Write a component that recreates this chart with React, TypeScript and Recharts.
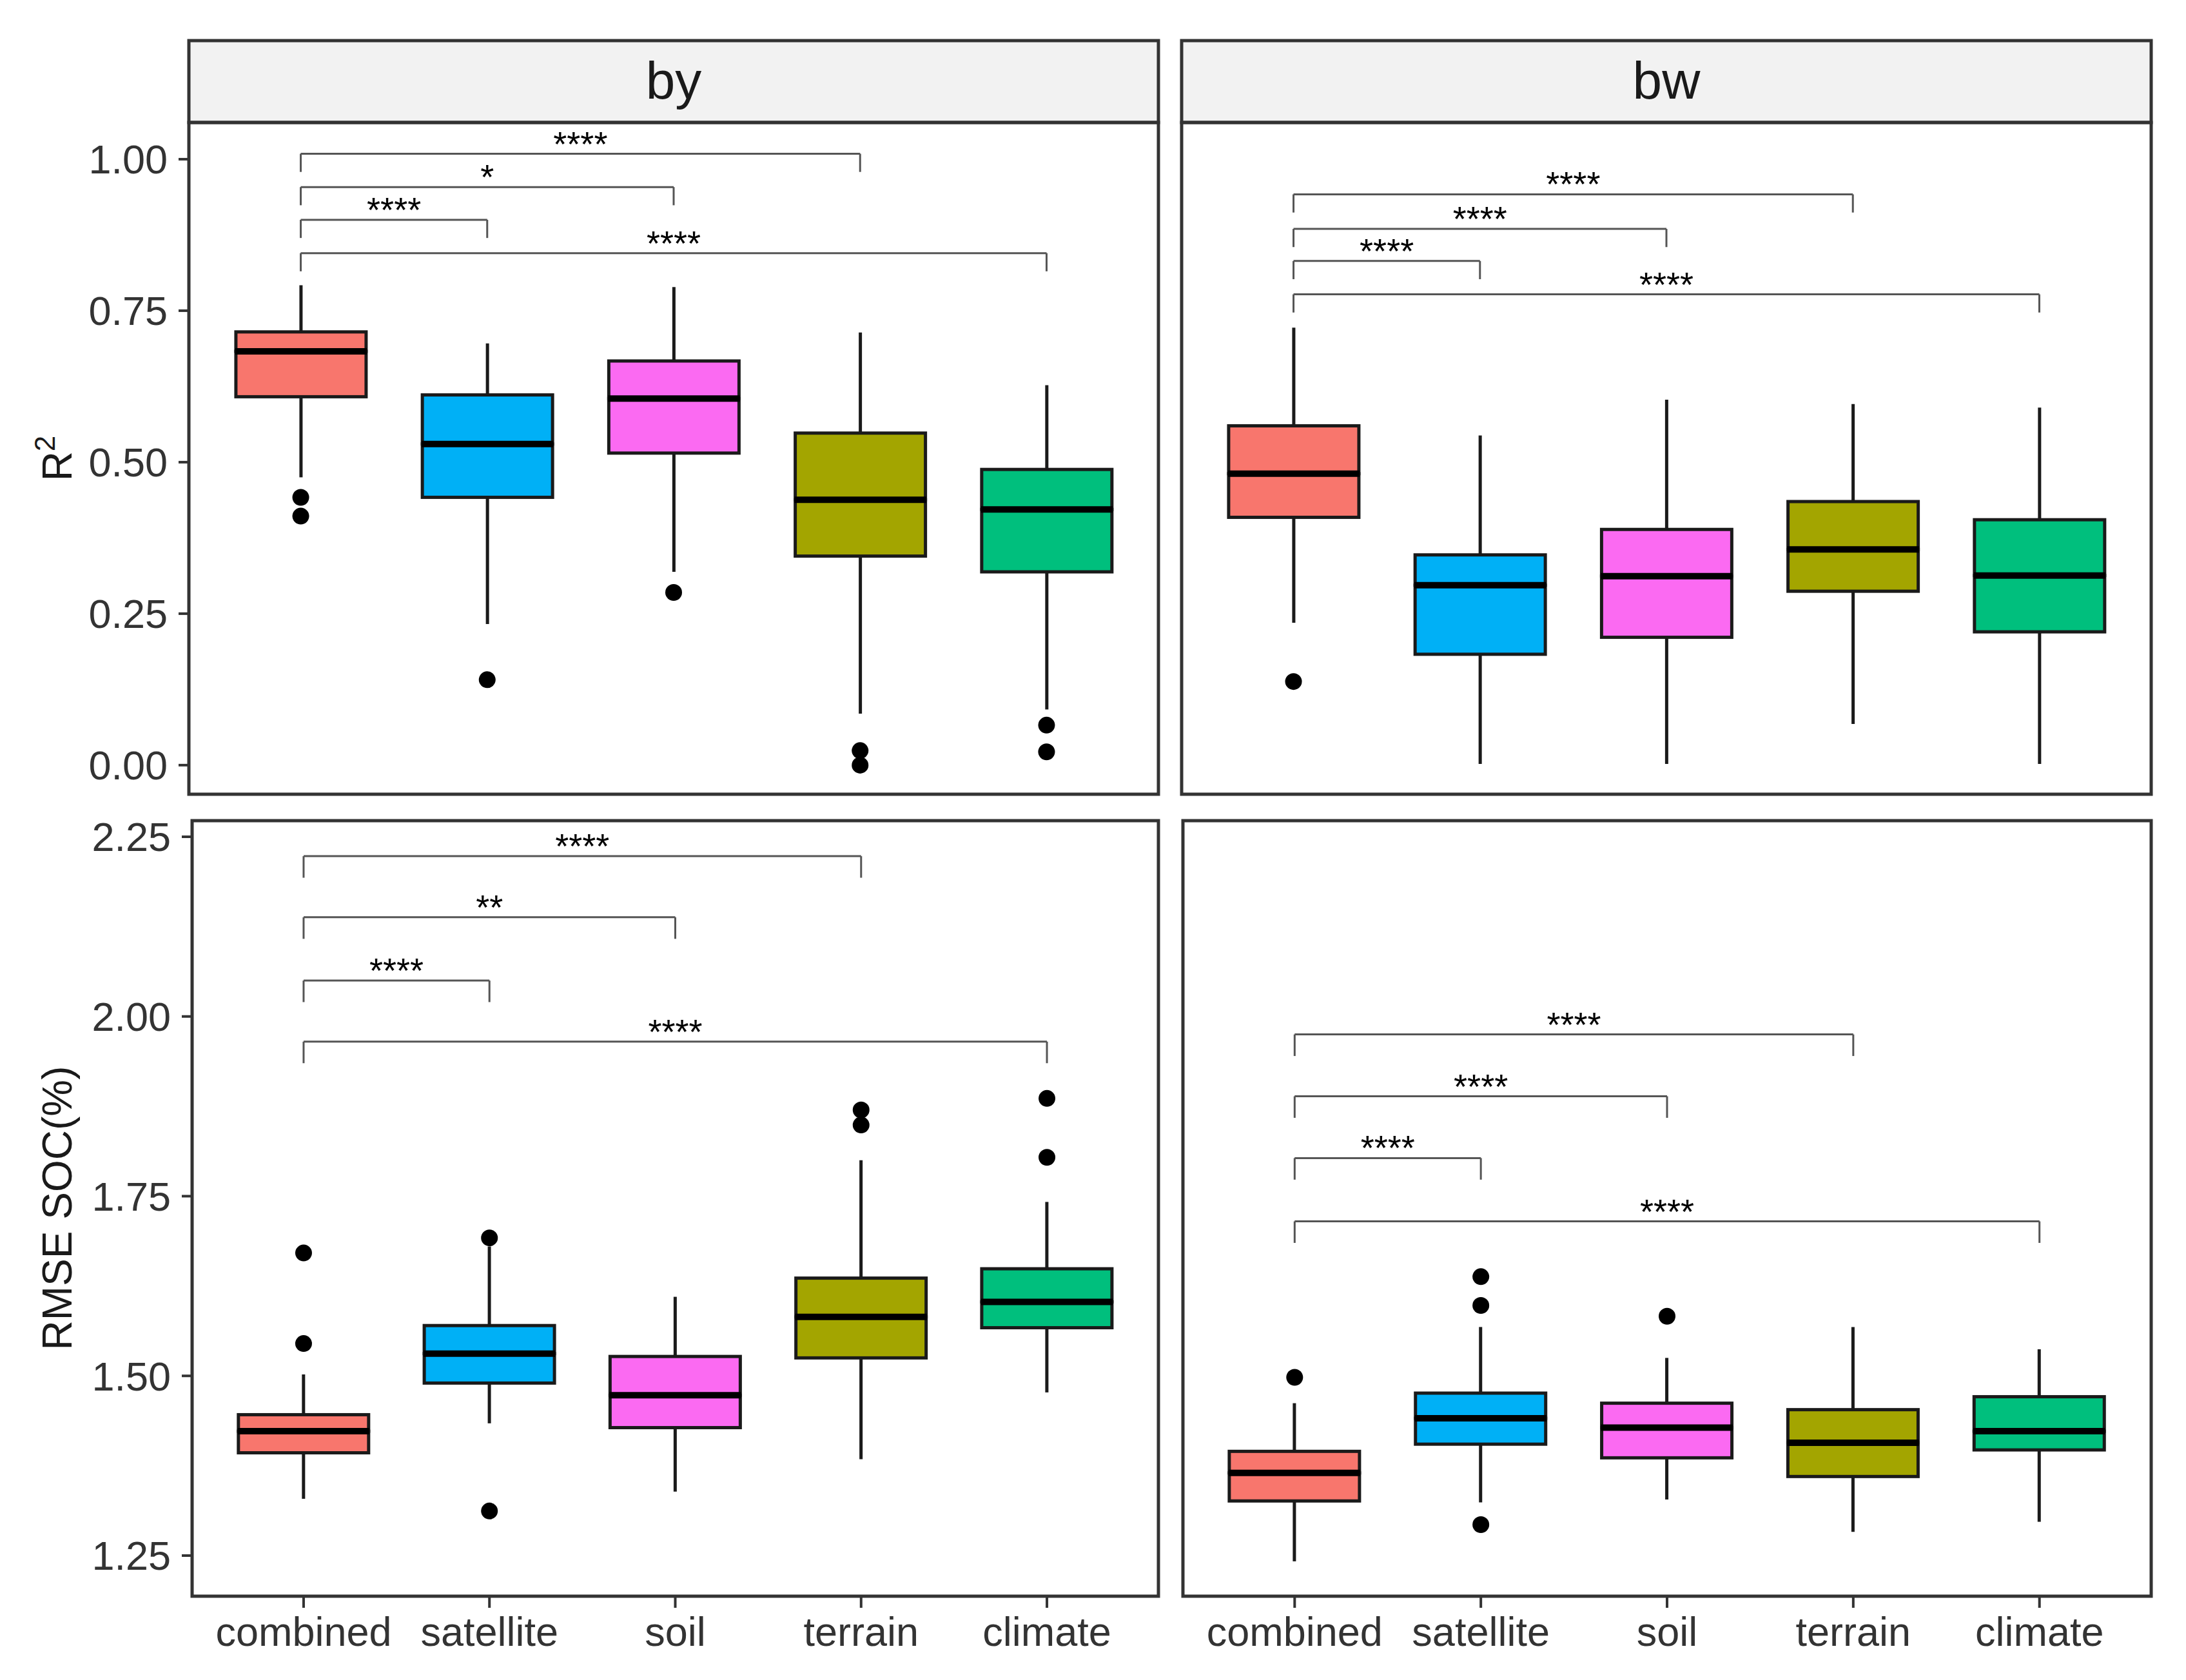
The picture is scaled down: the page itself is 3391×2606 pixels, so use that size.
import React from 'react';
import { ComposedChart, Bar, Scatter, XAxis, YAxis, ReferenceLine, ReferenceArea } from 'recharts';

const W = 3391;
const H = 2606;

const categories = ['combined', 'satellite', 'soil', 'terrain', 'climate'];
const boxColors = ['#F8766D', '#00B0F6', '#FB6AF2', '#A3A500', '#00BF7D'];

// [lower whisker, Q1, median, Q3, upper whisker] per category
const byR2Stats = [
  [0.475, 0.608, 0.683, 0.715, 0.792],
  [0.233, 0.442, 0.530, 0.611, 0.696],
  [0.319, 0.515, 0.605, 0.667, 0.789],
  [0.085, 0.345, 0.438, 0.548, 0.714],
  [0.092, 0.319, 0.422, 0.488, 0.627],
];
const byR2Outliers = [[0.442, 0.411], [0.141], [0.285], [0.024, 0.0], [0.066, 0.022]];

const bwR2Stats = [
  [0.235, 0.409, 0.481, 0.560, 0.722],
  [0.002, 0.183, 0.297, 0.347, 0.544],
  [0.002, 0.211, 0.312, 0.389, 0.603],
  [0.068, 0.287, 0.356, 0.435, 0.596],
  [0.002, 0.220, 0.313, 0.405, 0.590],
];
const bwR2Outliers = [[0.138], [], [], [], []];

const byRmseStats = [
  [1.329, 1.393, 1.423, 1.446, 1.502],
  [1.434, 1.490, 1.531, 1.570, 1.680],
  [1.339, 1.428, 1.473, 1.527, 1.610],
  [1.384, 1.525, 1.582, 1.636, 1.800],
  [1.477, 1.567, 1.603, 1.649, 1.742],
];
const byRmseOutliers = [[1.671, 1.545], [1.692, 1.312], [], [1.870, 1.849], [1.886, 1.804]];

const bwRmseStats = [
  [1.242, 1.326, 1.365, 1.395, 1.462],
  [1.324, 1.405, 1.441, 1.476, 1.568],
  [1.328, 1.386, 1.428, 1.462, 1.525],
  [1.283, 1.360, 1.407, 1.453, 1.568],
  [1.297, 1.397, 1.423, 1.471, 1.537],
];
const bwRmseOutliers = [[1.498], [1.638, 1.598, 1.293], [1.583], [], []];

// significance brackets: combined vs each of these
const comparedWith = ['satellite', 'soil', 'terrain', 'climate'];
const byR2BracketY = [0.900, 0.954, 1.009, 0.845];
const byR2Signif = ['****', '*', '****', '****'];
const bwR2BracketY = [0.832, 0.885, 0.942, 0.777];
const bwR2Signif = ['****', '****', '****', '****'];
const byRmseBracketY = [2.050, 2.138, 2.223, 1.965];
const byRmseSignif = ['****', '**', '****', '****'];
const bwRmseBracketY = [1.803, 1.889, 1.975, 1.715];
const bwRmseSignif = ['****', '****', '****', '****'];

const r2Ticks = [0, 0.25, 0.5, 0.75, 1.0];
const rmseTicks = [1.25, 1.5, 1.75, 2.0, 2.25];
const r2Domain = [-0.048, 1.0606];
const rmseDomain = [1.1935, 2.2724];
const xDomain = [0.4, 5.6];

const INK = '#1a1a1a';
const BORDER = '#333333';
const FONT = '"Liberation Sans", Arial, Helvetica, sans-serif';

const Empty = () => <g />;

const Whisker = (p: any) => {
  const cx = p.x + p.width / 2;
  return <line x1={cx} x2={cx} y1={p.y} y2={p.y + p.height} stroke={INK} strokeWidth={5} />;
};

const LowerBox = (p: any) => {
  const fill = (p.payload && p.payload.color) || boxColors[p.index];
  return <rect x={p.x} y={p.y} width={p.width} height={p.height} fill={fill} stroke={INK} strokeWidth={5} />;
};

const UpperBox = (p: any) => {
  const fill = (p.payload && p.payload.color) || boxColors[p.index];
  const yb = p.y + p.height;
  return (
    <g>
      <rect x={p.x} y={p.y} width={p.width} height={p.height} fill={fill} stroke={INK} strokeWidth={5} />
      <line x1={p.x - 1} x2={p.x + p.width + 1} y1={yb} y2={yb} stroke="#000" strokeWidth={10} />
    </g>
  );
};

const OutlierDot = (p: any) => <circle cx={p.cx} cy={p.cy} r={13} fill="#000" />;

const SigText = (p: any) => (
  <text x={p.cx} y={p.cy + 3} textAnchor="middle" fontSize={54} fill="#000" fontFamily={FONT}>
    {p.payload.t}
  </text>
);

type PanelProps = {
  stats: number[][];
  outliers: number[][];
  bracketY: number[];
  signif: string[];
  domain: number[];
  ticks: number[];
  left: number;
  right: number;
  top: number;
  bottom: number;
  showY: boolean;
  showX: boolean;
  tip: number;
};

function Panel(props: PanelProps) {
  const { stats, outliers, bracketY, signif, domain, ticks, left, right, top, bottom, showY, showX, tip } = props;
  const rows = categories.map((c, i) => {
    const s = stats[i];
    return {
      x: i + 1,
      name: c,
      color: boxColors[i],
      base: s[0],
      w1: s[1] - s[0],
      b1: s[2] - s[1],
      b2: s[3] - s[2],
      w2: s[4] - s[3],
    };
  });
  const outData: { x: number; y: number }[] = [];
  outliers.forEach((vals, i) => vals.forEach((v) => outData.push({ x: i + 1, y: v })));
  const labelData = comparedWith.map((c, k) => {
    const xi = categories.indexOf(c) + 1;
    return { x: (1 + xi) / 2, y: bracketY[k], t: signif[k] };
  });
  const plotW = right - left;
  const pad = plotW / 52; // matches ggplot discrete expansion of 0.6 units
  const xAxisH = 110;
  const margin = {
    top,
    right: W - right,
    left: showY ? 0 : left,
    bottom: showX ? H - bottom - xAxisH : H - bottom,
  };
  const lineProps = { xAxisId: 'num', stroke: '#555555', strokeWidth: 3, ifOverflow: 'visible' as const };
  return (
    <div style={{ position: 'absolute', left: 0, top: 0, width: W, height: H }}>
      <ComposedChart width={W} height={H} data={rows} margin={margin}>
        <XAxis
          dataKey="name"
          type="category"
          allowDuplicatedCategory={false}
          padding={{ left: pad, right: pad }}
          interval={0}
          hide={!showX}
          height={xAxisH}
          axisLine={false}
          tickLine={{ stroke: BORDER, strokeWidth: 4 }}
          tickSize={18}
          tickMargin={14}
          tick={{ fontSize: 63, fill: '#333333', fontFamily: FONT }}
        />
        <XAxis xAxisId="num" dataKey="x" type="number" domain={xDomain} allowDataOverflow hide />
        <YAxis
          type="number"
          domain={domain}
          ticks={ticks}
          interval={0}
          allowDataOverflow
          hide={!showY}
          width={showY ? left : 0}
          axisLine={false}
          tickLine={{ stroke: BORDER, strokeWidth: 4 }}
          tickSize={16}
          tickMargin={17}
          tick={{ fontSize: 63, fill: '#333333', fontFamily: FONT }}
          tickFormatter={(v: number) => v.toFixed(2)}
        />
        <Bar dataKey="base" stackId="box" barSize={202} shape={Empty} isAnimationActive={false} />
        <Bar dataKey="w1" stackId="box" barSize={202} shape={Whisker} isAnimationActive={false} />
        <Bar dataKey="b1" stackId="box" barSize={202} shape={LowerBox} isAnimationActive={false} />
        <Bar dataKey="b2" stackId="box" barSize={202} shape={UpperBox} isAnimationActive={false} />
        <Bar dataKey="w2" stackId="box" barSize={202} shape={Whisker} isAnimationActive={false} />
        <Scatter xAxisId="num" data={outData} dataKey="y" shape={OutlierDot} isAnimationActive={false} />
        {comparedWith.map((c, k) => {
          const xi = categories.indexOf(c) + 1;
          const y = bracketY[k];
          return (
            <React.Fragment key={c}>
              <ReferenceLine segment={[{ x: 1, y }, { x: xi, y }]} {...lineProps} />
              <ReferenceLine segment={[{ x: 1, y }, { x: 1, y: y - tip }]} {...lineProps} />
              <ReferenceLine segment={[{ x: xi, y }, { x: xi, y: y - tip }]} {...lineProps} />
            </React.Fragment>
          );
        })}
        <Scatter xAxisId="num" data={labelData} dataKey="y" shape={SigText} isAnimationActive={false} />
        <ReferenceArea
          xAxisId="num"
          x1={xDomain[0]}
          x2={xDomain[1]}
          y1={domain[0]}
          y2={domain[1]}
          fill="none"
          fillOpacity={0}
          stroke={BORDER}
          strokeWidth={5}
          ifOverflow="visible"
        />
      </ComposedChart>
    </div>
  );
}

function Decorations() {
  return (
    <svg width={W} height={H} style={{ position: 'absolute', left: 0, top: 0 }} fontFamily={FONT}>
      <rect x={293} y={63} width={1504} height={127} fill="#F2F2F2" stroke={BORDER} strokeWidth={5} />
      <text x={1045} y={153} textAnchor="middle" fontSize={82} fill={INK}>by</text>
      <rect x={1833} y={63} width={1504} height={127} fill="#F2F2F2" stroke={BORDER} strokeWidth={5} />
      <text x={2585} y={153} textAnchor="middle" fontSize={82} fill={INK}>bw</text>
      <text x={111} y={711} transform="rotate(-90 111 711)" textAnchor="middle" fontSize={64} fill={INK}>
        R<tspan dy={-26} fontSize={44}>2</tspan>
      </text>
      <text x={111} y={1874} transform="rotate(-90 111 1874)" textAnchor="middle" fontSize={64} fill={INK}>
        RMSE SOC(%)
      </text>
    </svg>
  );
}

export default function App() {
  return (
    <div style={{ position: 'absolute', left: 0, top: 0, width: W, height: H, background: '#ffffff', fontFamily: FONT }}>
      <Decorations />
      <Panel stats={byR2Stats} outliers={byR2Outliers} bracketY={byR2BracketY} signif={byR2Signif}
        domain={r2Domain} ticks={r2Ticks} left={293} right={1797} top={190} bottom={1232}
        showY={true} showX={false} tip={0.03} />
      <Panel stats={bwR2Stats} outliers={bwR2Outliers} bracketY={bwR2BracketY} signif={bwR2Signif}
        domain={r2Domain} ticks={r2Ticks} left={1833} right={3337} top={190} bottom={1232}
        showY={false} showX={false} tip={0.03} />
      <Panel stats={byRmseStats} outliers={byRmseOutliers} bracketY={byRmseBracketY} signif={byRmseSignif}
        domain={rmseDomain} ticks={rmseTicks} left={298} right={1797} top={1273} bottom={2476}
        showY={true} showX={true} tip={0.03} />
      <Panel stats={bwRmseStats} outliers={bwRmseOutliers} bracketY={bwRmseBracketY} signif={bwRmseSignif}
        domain={rmseDomain} ticks={rmseTicks} left={1835} right={3337} top={1273} bottom={2476}
        showY={false} showX={true} tip={0.03} />
    </div>
  );
}
